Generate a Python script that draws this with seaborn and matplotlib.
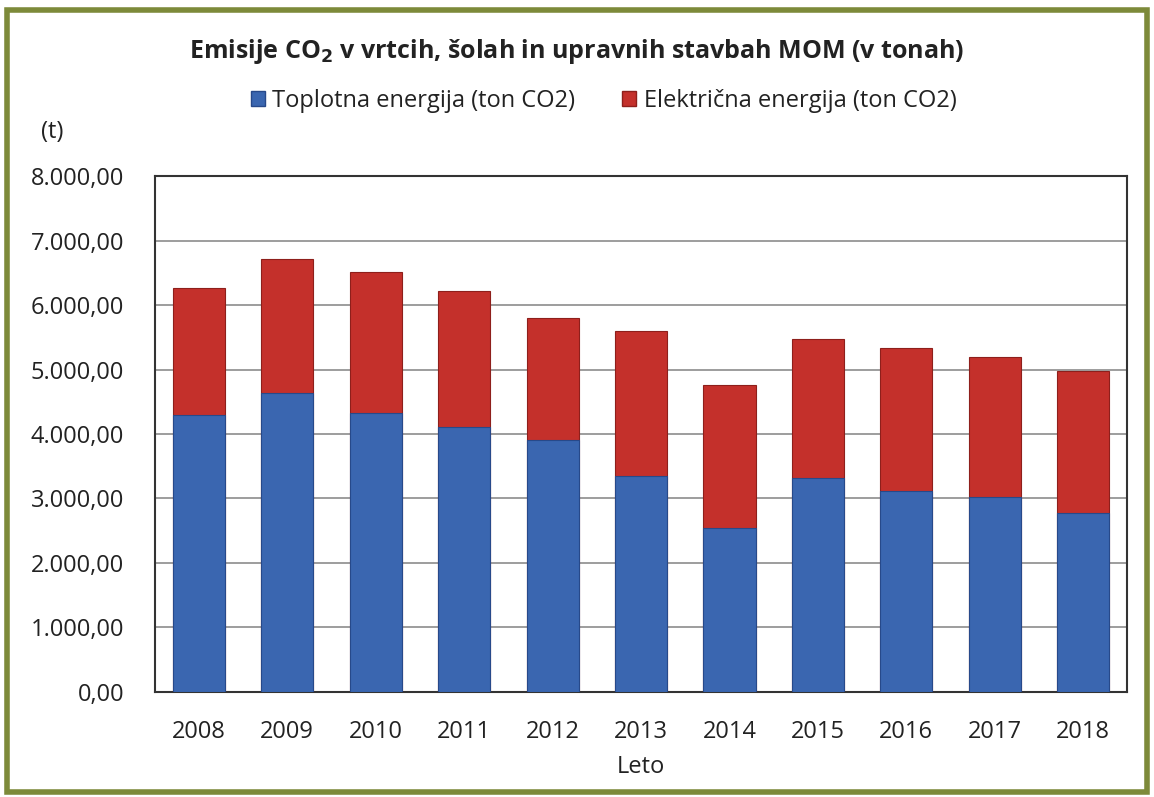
import matplotlib
matplotlib.use("Agg")
import matplotlib.pyplot as plt
import matplotlib.patches as mpatches
from matplotlib.ticker import FuncFormatter
import seaborn as sns
import pandas as pd

years = ["2008", "2009", "2010", "2011", "2012", "2013", "2014", "2015", "2016", "2017", "2018"]
toplotna = [4290, 4640, 4330, 4110, 3910, 3350, 2540, 3310, 3120, 3020, 2770]
elektricna = [1970, 2070, 2180, 2110, 1890, 2250, 2220, 2160, 2220, 2180, 2210]

blue = "#3a66b0"
red = "#c4302b"

sns.set_style("white")
plt.rcParams['font.family'] = ['Open Sans', 'DejaVu Sans']

df = pd.DataFrame({"Leto": years, "Toplotna": toplotna, "Elektricna": elektricna})
df["Skupaj"] = df["Toplotna"] + df["Elektricna"]

fig = plt.figure(figsize=(11.54, 7.97), dpi=100)
ax = fig.add_axes([0.134, 0.132, 0.843, 0.647])

# red total first, blue bottom part over it
sns.barplot(data=df, x="Leto", y="Skupaj", color=red, saturation=1, width=0.59,
            edgecolor="#8e1f1b", linewidth=0.8, ax=ax, zorder=3)
sns.barplot(data=df, x="Leto", y="Toplotna", color=blue, saturation=1, width=0.59,
            edgecolor="#27498a", linewidth=0.8, ax=ax, zorder=3)

ax.set_ylim(0, 8000)
ax.set_yticks(range(0, 8001, 1000))
ax.yaxis.set_major_formatter(FuncFormatter(lambda v, p: f"{int(v):,}".replace(",", ".") + ",00"))
ax.grid(axis="y", color="#8c8c8c", linewidth=1.2, zorder=0)
ax.set_axisbelow(True)
for s in ax.spines.values():
    s.set_color("#333333")
    s.set_linewidth(1.5)
ax.tick_params(axis="both", labelsize=17, colors="#222222", length=0)
ax.tick_params(axis="y", pad=22)
ax.tick_params(axis="x", pad=20)
ax.set_ylabel("")
ax.set_xlabel("Leto", fontsize=17, color="#222222", labelpad=8)

fig.text(0.5, 0.935, "Emisije CO$_\\mathbf{2}$ v vrtcih, šolah in upravnih stavbah MOM (v tonah)",
         ha="center", va="center", fontsize=18, fontweight="bold", color="#222222")
fig.text(0.045, 0.835, "(t)", ha="center", va="center", fontsize=17, color="#222222")

handles = [mpatches.Patch(facecolor=blue, edgecolor="#27498a", label="Toplotna energija (ton CO2)"),
           mpatches.Patch(facecolor=red, edgecolor="#8e1f1b", label="Električna energija (ton CO2)")]
fig.legend(handles=handles, loc="center", bbox_to_anchor=(0.523, 0.873), ncol=2, frameon=False,
           fontsize=17, handlelength=0.6, handleheight=0.6, handletextpad=0.3, columnspacing=2.0,
           labelcolor="#222222")

fig.patches.append(mpatches.Rectangle((0.006, 0.006), 0.988, 0.982, transform=fig.transFigure,
                                      fill=False, edgecolor="#7d8a3a", linewidth=4))

fig.savefig("out.png", dpi=100)
